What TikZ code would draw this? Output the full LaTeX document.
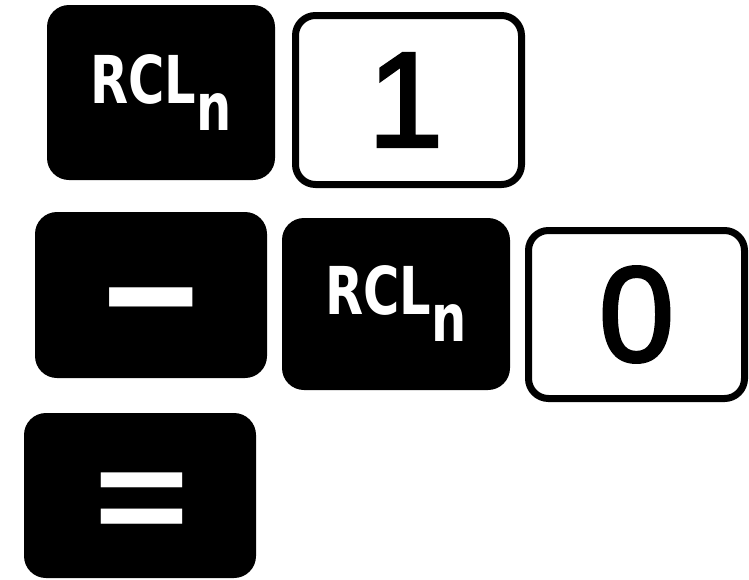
\documentclass[tikz,border=0pt]{standalone}
\usepackage{fontspec}
\newfontfamily\keyfont{DejaVu Sans}
\newfontfamily\digitfont{Liberation Sans}[FakeBold=2.5]
\tikzset{
  blackkey/.style={fill=black, rounded corners=22pt, inner sep=0pt},
  whitekey/.style={draw=black, line width=7pt, fill=white, rounded corners=20pt, inner sep=0pt},
  rcltext/.style={text=white, font={\keyfont\bfseries\fontsize{66}{66}\selectfont}, xscale=0.75, inner sep=0pt},
  digittext/.style={text=black, font={\digitfont\fontsize{135}{135}\selectfont}, inner sep=0pt},
  symtext/.style={text=white, font={\keyfont\bfseries\fontsize{133}{133}\selectfont}, inner sep=0pt},
  eqtext/.style={text=white, font={\keyfont\fontsize{130}{130}\selectfont}, inner sep=0pt}
}
\begin{document}
\begin{tikzpicture}[x=1pt,y=-1pt]
\useasboundingbox (0,0) rectangle (749,579);
% row 1
\node[blackkey, minimum width=228pt, minimum height=175pt] (k1) at (161,92.5) {};
\node[rcltext] (l1) at (k1.center) {RCL\raisebox{-27pt}{n}};
\node[whitekey, minimum width=226pt, minimum height=169pt] (k2) at (408.5,100) {};
\node[digittext] (l2) at ([xshift=-3pt]k2.center) {1};
% row 2
\node[blackkey, minimum width=232pt, minimum height=166pt] (k3) at (151,295) {};
\node[symtext, yscale=1.25] (l3) at ([yshift=-24pt]k3.center) {−};
\node[blackkey, minimum width=228pt, minimum height=172pt] (k4) at (396,304) {};
\node[rcltext] (l4) at (k4.center) {RCL\raisebox{-27pt}{n}};
\node[whitekey, minimum width=216pt, minimum height=168pt] (k5) at (636.5,314.5) {};
\node[digittext] (l5) at (k5.center) {0};
% row 3
\node[blackkey, minimum width=232pt, minimum height=165pt] (k6) at (140,495.5) {};
\node[eqtext, yscale=1.4] (l6) at ([xshift=2pt,yshift=-19pt]k6.center) {=};
\end{tikzpicture}
\end{document}
